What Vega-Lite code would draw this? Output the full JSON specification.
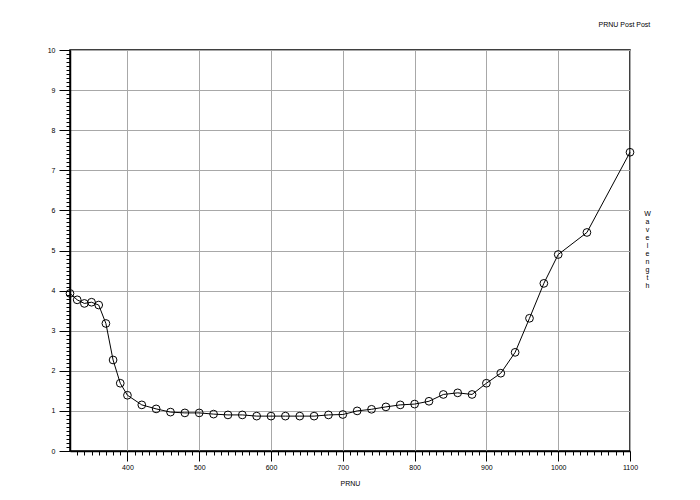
{
  "$schema": "https://vega.github.io/schema/vega-lite/v6.json",
  "autosize": {"type": "none"},
  "padding": {"left": 70, "top": 50, "right": 70, "bottom": 49},
  "width": 560,
  "height": 401,
  "background": "white",
  "config": {
    "view": {"stroke": "black", "strokeWidth": 1.5},
    "font": "Liberation Sans",
    "axis": {
      "domainColor": "black",
      "domainWidth": 1.5,
      "tickColor": "black",
      "tickWidth": 1,
      "gridColor": "#a8a8a8",
      "gridWidth": 1,
      "labelFont": "Liberation Sans",
      "labelFontSize": 7,
      "labelColor": "black",
      "titleFont": "Liberation Sans",
      "titleFontSize": 7,
      "titleFontWeight": "normal",
      "titleColor": "black",
      "labelOverlap": false,
      "labelFlush": false
    }
  },
  "title": {
    "text": "PRNU Post Post",
    "anchor": "end",
    "fontSize": 7,
    "fontWeight": "normal",
    "font": "Liberation Sans",
    "color": "black",
    "offset": 18
  },
  "data": {
    "values": [
      {"wl": 320, "prnu": 3.93},
      {"wl": 330, "prnu": 3.77},
      {"wl": 340, "prnu": 3.68},
      {"wl": 350, "prnu": 3.71},
      {"wl": 360, "prnu": 3.64},
      {"wl": 370, "prnu": 3.18},
      {"wl": 380, "prnu": 2.27},
      {"wl": 390, "prnu": 1.69},
      {"wl": 400, "prnu": 1.39},
      {"wl": 420, "prnu": 1.15},
      {"wl": 440, "prnu": 1.05},
      {"wl": 460, "prnu": 0.97},
      {"wl": 480, "prnu": 0.95},
      {"wl": 500, "prnu": 0.95},
      {"wl": 520, "prnu": 0.92},
      {"wl": 540, "prnu": 0.9},
      {"wl": 560, "prnu": 0.9},
      {"wl": 580, "prnu": 0.87},
      {"wl": 600, "prnu": 0.87},
      {"wl": 620, "prnu": 0.87},
      {"wl": 640, "prnu": 0.87},
      {"wl": 660, "prnu": 0.87},
      {"wl": 680, "prnu": 0.9},
      {"wl": 700, "prnu": 0.91},
      {"wl": 720, "prnu": 1.0},
      {"wl": 740, "prnu": 1.04},
      {"wl": 760, "prnu": 1.1},
      {"wl": 780, "prnu": 1.15},
      {"wl": 800, "prnu": 1.17},
      {"wl": 820, "prnu": 1.24},
      {"wl": 840, "prnu": 1.41},
      {"wl": 860, "prnu": 1.45},
      {"wl": 880, "prnu": 1.41},
      {"wl": 900, "prnu": 1.69},
      {"wl": 920, "prnu": 1.94},
      {"wl": 940, "prnu": 2.46},
      {"wl": 960, "prnu": 3.31},
      {"wl": 980, "prnu": 4.18},
      {"wl": 1000, "prnu": 4.9},
      {"wl": 1040, "prnu": 5.45},
      {"wl": 1100, "prnu": 7.45}
    ]
  },
  "encoding": {
    "x": {
      "field": "wl",
      "type": "quantitative",
      "scale": {"domain": [320, 1100], "nice": false, "zero": false},
      "axis": {
        "title": "PRNU",
        "titleY": 32,
        "titleBaseline": "middle",
        "values": [330,340,350,360,370,380,390,400,410,420,430,440,450,460,470,480,490,500,510,520,530,540,550,560,570,580,590,600,610,620,630,640,650,660,670,680,690,700,710,720,730,740,750,760,770,780,790,800,810,820,830,840,850,860,870,880,890,900,910,920,930,940,950,960,970,980,990,1000,1010,1020,1030,1040,1050,1060,1070,1080,1090,1100],
        "labelExpr": "datum.value % 100 === 0 ? toString(datum.value) : ''",
        "tickSize": {"condition": {"test": "datum.value % 100 === 0", "value": 10}, "value": 4},
        "gridOpacity": {"condition": {"test": "datum.value % 100 === 0", "value": 1}, "value": 0},
        "labelPadding": 2
      }
    },
    "y": {
      "field": "prnu",
      "type": "quantitative",
      "scale": {"domain": [0, 10], "nice": false},
      "axis": {
        "title": ["W", "a", "v", "e", "l", "e", "n", "g", "t", "h"],
        "titleAngle": 0,
        "titleX": 577,
        "titleY": 159,
        "titleAlign": "center",
        "titleBaseline": "top",
        "titleLineHeight": 8,
        "values": [0,0.1,0.2,0.3,0.4,0.5,0.6,0.7,0.8,0.9,1,1.1,1.2,1.3,1.4,1.5,1.6,1.7,1.8,1.9,2,2.1,2.2,2.3,2.4,2.5,2.6,2.7,2.8,2.9,3,3.1,3.2,3.3,3.4,3.5,3.6,3.7,3.8,3.9,4,4.1,4.2,4.3,4.4,4.5,4.6,4.7,4.8,4.9,5,5.1,5.2,5.3,5.4,5.5,5.6,5.7,5.8,5.9,6,6.1,6.2,6.3,6.4,6.5,6.6,6.7,6.8,6.9,7,7.1,7.2,7.3,7.4,7.5,7.6,7.7,7.8,7.9,8,8.1,8.2,8.3,8.4,8.5,8.6,8.7,8.8,8.9,9,9.1,9.2,9.3,9.4,9.5,9.6,9.7,9.8,9.9,10],
        "labelExpr": "abs(datum.value - round(datum.value)) < 0.001 ? toString(round(datum.value)) : ''",
        "tickSize": {"condition": {"test": "abs(datum.value - round(datum.value)) < 0.001", "value": 11}, "value": 4},
        "gridOpacity": {"condition": {"test": "abs(datum.value - round(datum.value)) < 0.001", "value": 1}, "value": 0},
        "labelPadding": 4
      }
    }
  },
  "layer": [
    {"mark": {"type": "line", "color": "black", "strokeWidth": 1}},
    {"mark": {"type": "point", "shape": "circle", "filled": false, "stroke": "black", "strokeWidth": 1, "size": 60, "opacity": 1}}
  ]
}
